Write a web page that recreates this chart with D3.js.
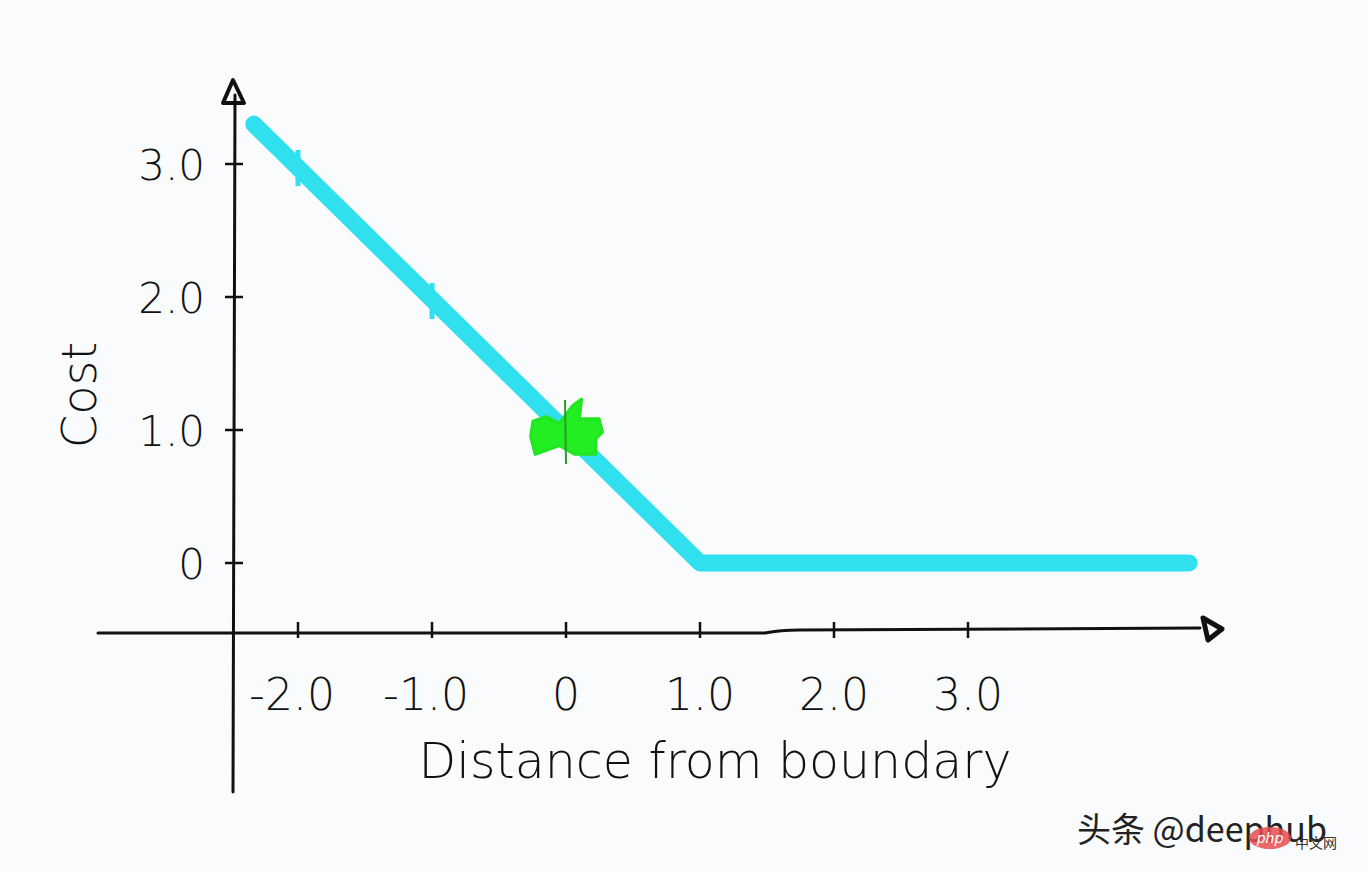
<!DOCTYPE html>
<html><head><meta charset="utf-8">
<script src="https://cdn.jsdelivr.net/npm/d3@7"></script>
<style>
html,body{margin:0;padding:0;background:#f9fbfc;}
svg{display:block;}
</style></head>
<body>
<script>
// Data
const lineX = [-2.33, 1.0, 4.65];
const lineY = [3.3, 0.0, 0.0];
const markerX = [0];
const markerY = [1];
const xTicks = [-2, -1, 0, 1, 2, 3];
const xTickLabels = ["-2.0", "-1.0", "0", "1.0", "2.0", "3.0"];
const yTicks = [0, 1, 2, 3];
const yTickLabels = ["0", "1.0", "2.0", "3.0"];
const xTitle = "Distance from boundary";
const yTitle = "Cost";

const W = 1368, H = 872;
const svg = d3.select("body").append("svg").attr("width", W).attr("height", H);
svg.append("rect").attr("width", W).attr("height", H).attr("fill", "#f9fbfc");

const x = d3.scaleLinear().domain([0, 1]).range([566, 700]);
const y = d3.scaleLinear().domain([0, 1]).range([563, 430]);

const axisY = 630;
const axisX = 235;
const ink = "#111";

// Y axis line
svg.append("line").attr("x1", axisX).attr("x2", axisX - 2)
  .attr("y1", 95).attr("y2", 792).attr("stroke", ink).attr("stroke-width", 3).attr("stroke-linecap", "round");
svg.append("path").attr("d", `M${axisX-2},80 L${axisX+9},103 L${axisX-12},103 Z`)
  .attr("fill", "none").attr("stroke", ink).attr("stroke-width", 4).attr("stroke-linejoin", "round");

// X axis line
svg.append("path").attr("d", `M98,${axisY+3} L765,${axisY+3} Q780,${axisY} 800,${axisY} L1200,${axisY-2}`)
  .attr("fill", "none").attr("stroke", ink).attr("stroke-width", 3).attr("stroke-linecap", "round");
svg.append("path").attr("d", `M1203,${axisY-12} L1222,${axisY-1} L1208,${axisY+10} Z`)
  .attr("fill", "none").attr("stroke", ink).attr("stroke-width", 5).attr("stroke-linejoin", "round");

// X ticks
svg.selectAll(".xt").data(xTicks).enter().append("line")
  .attr("x1", d => x(d)).attr("x2", d => x(d))
  .attr("y1", axisY - 8).attr("y2", axisY + 8)
  .attr("stroke", ink).attr("stroke-width", 2.5);
svg.selectAll(".xl").data(xTicks).enter().append("text")
  .attr("x", d => x(d) + (d < 0 ? -6 : 0)).attr("y", 710)
  .attr("text-anchor", "middle")
  .attr("font-family", "DejaVu Sans, sans-serif").attr("font-size", 44).attr("font-weight", 300)
  .attr("fill", ink)
  .text((d, i) => xTickLabels[i]);

// Y ticks
svg.selectAll(".yt").data(yTicks).enter().append("line")
  .attr("x1", axisX - 10).attr("x2", axisX + 8)
  .attr("y1", d => y(d)).attr("y2", d => y(d))
  .attr("stroke", ink).attr("stroke-width", 2.5);
svg.selectAll(".yl").data(yTicks).enter().append("text")
  .attr("x", 205).attr("y", d => y(d) + 16)
  .attr("text-anchor", "end")
  .attr("font-family", "DejaVu Sans, sans-serif").attr("font-size", 42).attr("font-weight", 300)
  .attr("fill", ink)
  .text((d, i) => yTickLabels[i]);

// Axis titles
svg.append("text").attr("x", 715).attr("y", 778).attr("text-anchor", "middle")
  .attr("font-family", "DejaVu Sans, sans-serif").attr("font-size", 49).attr("font-weight", 300)
  .attr("fill", ink).text(xTitle);
svg.append("text").attr("transform", "translate(96,395) rotate(-90)").attr("text-anchor", "middle")
  .attr("font-family", "DejaVu Sans, sans-serif").attr("font-size", 48).attr("font-weight", 300)
  .attr("fill", ink).text(yTitle);

// Cost line
const pts = lineX.map((d, i) => [d, lineY[i]]);
svg.append("path").datum(pts)
  .attr("d", d3.line().x(d => x(d[0])).y(d => y(d[1])))
  .attr("fill", "none").attr("stroke", "#30e0ef").attr("stroke-width", 17)
  .attr("stroke-linecap", "round").attr("stroke-linejoin", "round");

// small ticks on line at x=-2, -1
svg.selectAll(".lt").data([-2, -1]).enter().append("line")
  .attr("x1", d => x(d)).attr("x2", d => x(d))
  .attr("y1", d => y(1 - d) - 14).attr("y2", d => y(1 - d) + 22)
  .attr("stroke", "#30e0ef").attr("stroke-width", 5);

// Marker
markerX.forEach((mx, i) => {
  const cx = x(mx), cy = y(markerY[i]);
  svg.append("path")
    .attr("transform", `translate(${cx},${cy}) scale(1.1)`)
    .attr("d", "M-30,-8 L-18,-12 L-6,-6 L6,-22 L14,-28 L12,-10 L30,-10 L33,2 L27,8 L27,22 L8,22 L-6,14 L-28,22 L-32,6 Z")
    .attr("fill", "#22ee22").attr("stroke", "#22e622").attr("stroke-width", 3).attr("stroke-linejoin", "round");
  svg.append("line").attr("x1", cx - 1).attr("x2", cx).attr("y1", cy - 30).attr("y2", cy + 34)
    .attr("stroke", "#2a9a2a").attr("stroke-width", 2);
});

// Watermark
svg.append("text").attr("x", 1077).attr("y", 842)
  .attr("font-family", "Noto Sans CJK SC, sans-serif").attr("font-size", 34)
  .attr("fill", "#222").text("头条 @deephub");
svg.append("ellipse").attr("cx", 1270).attr("cy", 838).attr("rx", 21).attr("ry", 11)
  .attr("fill", "#e84c4c").attr("opacity", 0.85);
svg.append("text").attr("x", 1270).attr("y", 843).attr("text-anchor", "middle")
  .attr("font-family", "DejaVu Sans, sans-serif").attr("font-size", 14).attr("font-style", "italic")
  .attr("fill", "#fff").text("php");
svg.append("text").attr("x", 1316).attr("y", 848).attr("text-anchor", "middle")
  .attr("font-family", "Noto Sans CJK SC, sans-serif").attr("font-size", 14)
  .attr("fill", "#333").text("中文网");
</script>
</body></html>
